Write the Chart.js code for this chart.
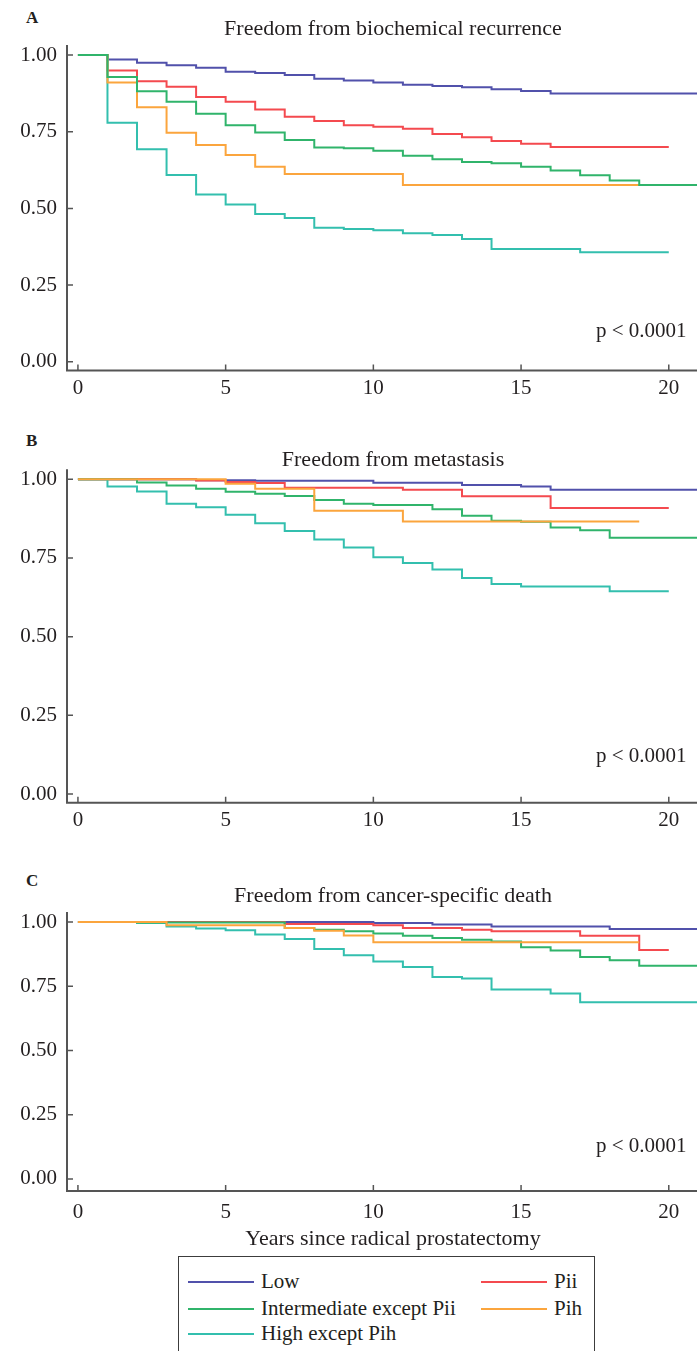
<!DOCTYPE html>
<html>
<head>
<meta charset="utf-8">
<title>Kaplan-Meier curves</title>
<script src="https://cdn.jsdelivr.net/npm/chart.js@4.4.1/dist/chart.umd.min.js"></script>
<style>
html, body { margin: 0; padding: 0; background: #fff; }
body { width: 697px; height: 1351px; overflow: hidden; position: relative; font-family: 'Liberation Serif', serif; color: #231f20; }
.panel { position: absolute; left: 0; }
.tag { position: absolute; left: 26px; font-weight: bold; font-size: 17px; line-height: 17px; }
#legend { position: absolute; left: 178px; top: 1256px; width: 415px; height: 120px; border: 1.5px solid #3c3c3c; }
.item { position: absolute; font-size: 21px; line-height: 24px; white-space: nowrap; }
.item i { position: absolute; top: 12px; height: 2px; width: 66px; }
</style>
</head>
<body>
<div class="tag" style="top:9px">A</div>
<div class="tag" style="top:432px">B</div>
<div class="tag" style="top:872px">C</div>
<div class="panel" style="top:0px"><canvas id="chartA" width="719" height="411"></canvas></div>
<div class="panel" style="top:420px"><canvas id="chartB" width="719" height="423"></canvas></div>
<div class="panel" style="top:860px"><canvas id="chartC" width="719" height="392"></canvas></div>
<div id="legend"></div>

<script>
var groups = ['Low', 'Pii', 'Intermediate except Pii', 'Pih', 'High except Pih'];
var colors = ['#5151ab', '#f44a4f', '#30b46b', '#fba53d', '#33bfae'];
var xTicks = [0, 5, 10, 15, 20];
var yTicks = [0, 0.25, 0.5, 0.75, 1];

// A - freedom from biochemical recurrence  [year, survival]
var bcrLow = [[0,1],[1,.986],[2,.975],[3,.967],[4,.959],[5,.946],[6,.942],[7,.935],[8,.923],[9,.917],[10,.911],[11,.903],[12,.899],[13,.895],[14,.889],[15,.883],[16,.875],[21.8,.875]];
var bcrPii = [[0,1],[1,.950],[2,.915],[3,.897],[4,.863],[5,.848],[6,.823],[7,.799],[8,.785],[9,.771],[10,.766],[11,.760],[12,.743],[13,.732],[14,.720],[15,.711],[16,.700],[20,.700]];
var bcrInt = [[0,1],[1,.929],[2,.882],[3,.848],[4,.809],[5,.771],[6,.748],[7,.723],[8,.699],[9,.696],[10,.688],[11,.672],[12,.660],[13,.651],[14,.647],[15,.636],[16,.624],[17,.608],[18,.591],[19,.576],[21.8,.576]];
var bcrPih = [[0,1],[1,.911],[2,.830],[3,.747],[4,.707],[5,.674],[6,.636],[7,.612],[11,.576],[19,.576]];
var bcrHigh = [[0,1],[1,.779],[2,.693],[3,.609],[4,.545],[5,.513],[6,.482],[7,.469],[8,.437],[9,.433],[10,.429],[11,.419],[12,.413],[13,.400],[14,.368],[17,.357],[20,.357]];

// B - freedom from metastasis
var metLow = [[0,1],[4,.997],[6,.995],[10,.989],[13,.982],[15,.977],[16,.967],[21.8,.967]];
var metPii = [[0,1],[4,.996],[5,.991],[6,.988],[7,.973],[11,.967],[13,.946],[16,.909],[20,.909]];
var metInt = [[0,1],[2,.990],[3,.980],[4,.970],[5,.960],[6,.954],[7,.947],[8,.934],[9,.922],[10,.918],[12,.905],[13,.884],[14,.868],[15,.865],[16,.847],[17,.838],[18,.814],[21.8,.814]];
var metPih = [[0,1],[5,.986],[6,.970],[8,.900],[11,.866],[19,.866]];
var metHigh = [[0,1],[1,.977],[2,.961],[3,.922],[4,.911],[5,.887],[6,.860],[7,.836],[8,.809],[9,.783],[10,.752],[11,.734],[12,.713],[13,.686],[14,.667],[15,.659],[18,.644],[20,.644]];

// C - freedom from cancer-specific death
var csdLow = [[0,1],[10,.996],[12,.990],[14,.983],[18,.973],[21.8,.973]];
var csdPii = [[0,1],[7,.992],[10,.987],[11,.977],[13,.970],[14,.964],[17,.947],[19,.891],[20,.891]];
var csdInt = [[0,1],[2,.998],[7,.977],[8,.970],[9,.964],[10,.955],[11,.947],[12,.938],[13,.931],[14,.924],[15,.902],[16,.889],[17,.864],[18,.851],[19,.830],[21.8,.830]];
var csdPih = [[0,1],[3,.987],[7,.977],[8,.966],[9,.948],[10,.921],[19,.921]];
var csdHigh = [[0,1],[2,.996],[3,.983],[4,.975],[5,.968],[6,.951],[7,.934],[8,.895],[9,.871],[10,.846],[11,.825],[12,.786],[13,.780],[14,.737],[16,.722],[17,.688],[21.8,.688]];

var serif = "'Liberation Serif', 'Times New Roman', serif";
var textColor = '#231f20';
var axisColor = '#555555';

// axis lines with inward tick marks, plus the p value
var kmAxes = {
    id: 'kmAxes',
    afterDraw: function(chart, args, opts) {
        var ctx = chart.ctx, a = chart.chartArea;
        var x = chart.scales.x, y = chart.scales.y;
        ctx.save();
        ctx.strokeStyle = axisColor;
        ctx.lineWidth = 2;
        ctx.beginPath();
        ctx.moveTo(a.left, a.top);
        ctx.lineTo(a.left, a.bottom);
        ctx.lineTo(a.right, a.bottom);
        ctx.stroke();
        ctx.lineWidth = 1.5;
        ctx.beginPath();
        yTicks.forEach(function(v) {
            var py = y.getPixelForValue(v);
            ctx.moveTo(a.left, py);
            ctx.lineTo(a.left + 6, py);
        });
        xTicks.forEach(function(v) {
            var px = x.getPixelForValue(v);
            ctx.moveTo(px, a.bottom);
            ctx.lineTo(px, a.bottom - 6);
        });
        ctx.stroke();
        ctx.fillStyle = textColor;
        ctx.font = '21px ' + serif;
        ctx.textAlign = 'right';
        ctx.textBaseline = 'middle';
        ctx.fillText(opts.text, x.getPixelForValue(20.6), y.getPixelForValue(opts.at));
        ctx.restore();
    }
};

function drawPanel(id, cfg) {
    var ctx = document.getElementById(id).getContext('2d');
    return new Chart(ctx, {
        type: 'line',
        data: {
            datasets: cfg.series.map(function(s, i) {
                return {
                    label: groups[i],
                    data: s.map(function(p) { return {x: p[0], y: p[1]}; }),
                    borderColor: colors[i],
                    borderWidth: 2,
                    stepped: 'before',
                    pointRadius: 0,
                    fill: false,
                    order: cfg.order[i]
                };
            })
        },
        options: {
            responsive: false,
            animation: false,
            events: [],
            layout: { padding: 0 },
            plugins: {
                legend: { display: false },
                tooltip: { enabled: false },
                title: {
                    display: true,
                    text: cfg.title,
                    fullSize: false,
                    color: textColor,
                    font: { family: serif, size: 22, weight: 'normal', lineHeight: 0.8 },
                    padding: cfg.titlePad
                },
                kmAxes: { text: 'p < 0.0001', at: cfg.pAt }
            },
            scales: {
                x: {
                    type: 'linear',
                    min: -0.37,
                    max: 21.7,
                    grid: { display: false, drawTicks: false },
                    border: { display: false },
                    ticks: { padding: cfg.xPad, color: textColor, font: { family: serif, size: 21 } },
                    afterBuildTicks: function(s) { s.ticks = xTicks.map(function(v) { return {value: v}; }); },
                    afterFit: function(s) { s.height = cfg.xHeight; },
                    title: {
                        display: !!cfg.xTitle,
                        text: cfg.xTitle || '',
                        color: textColor,
                        font: { family: serif, size: 22 },
                        padding: { top: 0, bottom: 0 }
                    }
                },
                y: {
                    type: 'linear',
                    min: cfg.yMin,
                    max: cfg.yMax,
                    grid: { display: false, drawTicks: false },
                    border: { display: false },
                    ticks: {
                        padding: 10,
                        color: textColor,
                        font: { family: serif, size: 21 },
                        callback: function(v) { return v.toFixed(2); }
                    },
                    afterBuildTicks: function(s) { s.ticks = yTicks.map(function(v) { return {value: v}; }); },
                    afterFit: function(s) { s.width = 67; }
                }
            }
        },
        plugins: [kmAxes]
    });
}

drawPanel('chartA', {
    title: 'Freedom from biochemical recurrence',
    series: [bcrLow, bcrPii, bcrInt, bcrPih, bcrHigh],
    order: [4, 3, 0, 1, 2],
    titlePad: { top: 20.2, bottom: 7.2 },
    yMin: -0.029, yMax: 1.033,
    xPad: 5, xHeight: 40.4,
    pAt: 0.098
});

drawPanel('chartB', {
    title: 'Freedom from metastasis',
    series: [metLow, metPii, metInt, metPih, metHigh],
    order: [4, 3, 1, 0, 2],
    titlePad: { top: 31.2, bottom: 0.4 },
    yMin: -0.028, yMax: 1.032,
    xPad: 5, xHeight: 40.2,
    pAt: 0.12
});

drawPanel('chartC', {
    title: 'Freedom from cancer-specific death',
    series: [csdLow, csdPii, csdInt, csdPih, csdHigh],
    order: [4, 3, 1, 0, 2],
    titlePad: { top: 27.2, bottom: 7.2 },
    yMin: -0.047, yMax: 1.039,
    xPad: 9, xHeight: 61,
    xTitle: 'Years since radical prostatectomy',
    pAt: 0.125
});

// legend box: two columns
var legendPos = [[9, 12], [302, 12], [9, 39], [302, 39], [9, 64]];
var legend = document.getElementById('legend');
groups.forEach(function(name, g) {
    var item = document.createElement('div');
    item.className = 'item';
    item.style.left = legendPos[g][0] + 'px';
    item.style.top = legendPos[g][1] + 'px';
    item.style.paddingLeft = '73px';
    var line = document.createElement('i');
    line.style.left = '0px';
    line.style.background = colors[g];
    item.appendChild(line);
    item.appendChild(document.createTextNode(name));
    legend.appendChild(item);
});
</script>
</body>
</html>
